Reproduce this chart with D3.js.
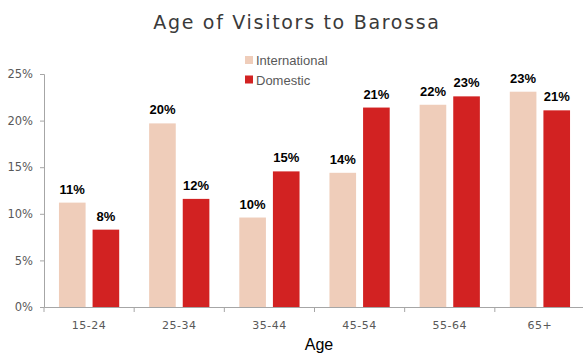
<!DOCTYPE html>
<html>
<head>
<meta charset="utf-8">
<script src="https://cdn.jsdelivr.net/npm/d3@7"></script>
<style>
  html, body { margin: 0; padding: 0; background: #fff; }
  svg { display: block; }
</style>
</head>
<body>
<svg id="chart" width="583" height="354"></svg>
<script>
// Age groups and the share of visitors in each, by origin
const categories = ["15-24", "25-34", "35-44", "45-54", "55-64", "65+"];
const seriesNames = ["International", "Domestic"];
const international = [0.112, 0.197, 0.096, 0.144, 0.217, 0.231];
const domestic = [0.083, 0.116, 0.1455, 0.214, 0.226, 0.211];
const yTicks = [0, 0.05, 0.10, 0.15, 0.20, 0.25];

const colors = { International: "#EFCDBA", Domestic: "#D22222" };

const svg = d3.select("#chart");
const margin = { left: 44, right: 0, top: 74, bottom: 47 };
const W = 583, H = 354;

const x0 = d3.scaleBand()
  .domain(categories)
  .range([margin.left, 585])
  .paddingInner(0)
  .paddingOuter(0);

const x1 = d3.scaleBand()
  .domain(seriesNames)
  .range([0, x0.bandwidth()])
  .paddingInner(0.208)
  .paddingOuter(0.445);

const y = d3.scaleLinear()
  .domain([0, 0.25])
  .range([H - margin.bottom, margin.top]);

const rows = categories.map((c, i) => ({
  cat: c,
  vals: [
    { key: "International", v: international[i] },
    { key: "Domestic", v: domestic[i] }
  ]
}));

// Title
svg.append("text")
  .attr("x", 297).attr("y", 29)
  .attr("text-anchor", "middle")
  .attr("font-family", "'DejaVu Sans', sans-serif")
  .attr("font-size", 19)
  .attr("letter-spacing", 1.7)
  .attr("fill", "#3a3a3a")
  .text("Age of Visitors to Barossa");

// Bars
const groups = svg.append("g").selectAll("g")
  .data(rows).join("g")
  .attr("transform", d => `translate(${x0(d.cat)},0)`);

groups.selectAll("rect")
  .data(d => d.vals).join("rect")
  .attr("x", d => x1(d.key))
  .attr("width", x1.bandwidth())
  .attr("y", d => y(d.v))
  .attr("height", d => y(0) - y(d.v))
  .attr("fill", d => colors[d.key]);

// Value labels
const fmt = d3.format(".0%");
groups.selectAll("text")
  .data(d => d.vals).join("text")
  .attr("x", d => x1(d.key) + x1.bandwidth() / 2)
  .attr("y", d => y(d.v) - 9)
  .attr("text-anchor", "middle")
  .attr("font-family", "'Liberation Sans Narrow', 'Liberation Sans', sans-serif")
  .attr("font-weight", "bold")
  .attr("font-size", 13)
  .attr("fill", "#000")
  .text(d => fmt(d.v));

// Y axis
const yAxis = svg.append("g")
  .attr("transform", `translate(${margin.left},0)`)
  .call(d3.axisLeft(y).tickValues(yTicks).tickFormat(d3.format(".0%")).tickSize(4).tickPadding(7));
yAxis.select(".domain").attr("stroke", "#A6A6A6");
yAxis.selectAll(".tick line").attr("stroke", "#A6A6A6");
yAxis.selectAll(".tick text")
  .attr("font-family", "'DejaVu Sans', sans-serif")
  .attr("font-size", 11.5)
  .attr("fill", "#595959");

// X axis
const xAxis = svg.append("g")
  .attr("transform", `translate(0,${y(0)})`)
  .call(d3.axisBottom(x0).tickSize(0).tickPadding(14));
xAxis.select(".domain").attr("stroke", "#A6A6A6");
xAxis.selectAll(".tick text")
  .attr("font-family", "'DejaVu Sans', sans-serif")
  .attr("font-size", 11)
  .attr("letter-spacing", 0.5)
  .attr("fill", "#595959");
// boundary ticks between categories
xAxis.selectAll("line.sep")
  .data(categories).join("line")
  .attr("class", "sep")
  .attr("x1", d => x0(d)).attr("x2", d => x0(d))
  .attr("y1", 0).attr("y2", 5)
  .attr("stroke", "#A6A6A6");

// Axis title
svg.append("text")
  .attr("x", 319)
  .attr("y", 350)
  .attr("text-anchor", "middle")
  .attr("font-family", "'Liberation Sans', Arial, sans-serif")
  .attr("font-size", 16)
  .attr("fill", "#000")
  .text("Age");

// Legend
const legend = svg.append("g").attr("transform", "translate(245,0)");
seriesNames.forEach((s, i) => {
  const cy = 60.5 + i * 19.5;
  legend.append("rect")
    .attr("x", 0).attr("y", cy - 4.5)
    .attr("width", 8).attr("height", 8)
    .attr("fill", colors[s]);
  legend.append("text")
    .attr("x", 11).attr("y", cy)
    .attr("dy", "0.35em")
    .attr("font-family", "'Liberation Sans', Arial, sans-serif")
    .attr("font-size", 13)
    .attr("fill", "#595959")
    .text(s);
});
</script>
</body>
</html>
